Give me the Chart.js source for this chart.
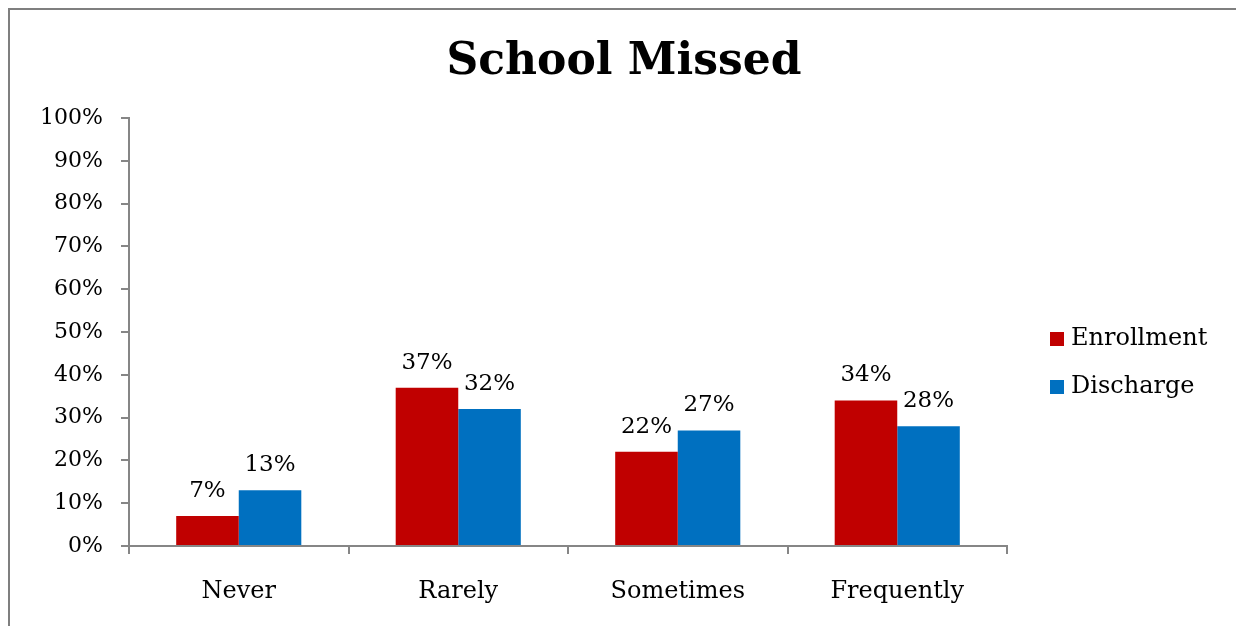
<!DOCTYPE html>
<html>
<head>
<meta charset="utf-8">
<script src="https://cdn.jsdelivr.net/npm/chart.js@4/dist/chart.umd.min.js"></script>
<style>
  html, body { margin: 0; padding: 0; background: #fff; overflow: hidden; }
  #wrap { position: absolute; left: 0; top: 0; width: 1236px; height: 626px; }
</style>
</head>
<body>
<div id="wrap"><canvas id="grafico"></canvas></div>
<script>
// Datos del gráfico
const categorias = ['Never', 'Rarely', 'Sometimes', 'Frequently'];
const enrollment = [7, 37, 22, 34];
const discharge = [13, 32, 27, 28];
const nombresSeries = ['Enrollment', 'Discharge'];
const coloresSeries = ['#C00000', '#0070C0'];
const titulo = 'School Missed';

const fuente = 'DejaVu Serif';
const gris = '#868686';

// Marco gris (borde superior e izquierdo visibles)
const marco = {
    id: 'marco',
    beforeDraw(chart) {
        const ctx = chart.ctx;
        ctx.save();
        ctx.fillStyle = '#7f7f7f';
        ctx.fillRect(8, 8, chart.width - 8, 2);
        ctx.fillRect(8, 8, 2, chart.height - 8);
        ctx.restore();
    }
};

// Título centrado en todo el lienzo
const tituloCentrado = {
    id: 'tituloCentrado',
    afterDraw(chart) {
        const ctx = chart.ctx;
        ctx.save();
        ctx.font = 'bold 44px "' + fuente + '"';
        ctx.fillStyle = '#000';
        ctx.textAlign = 'center';
        ctx.textBaseline = 'middle';
        ctx.fillText(titulo, chart.width / 2 + 6, 63);
        ctx.restore();
    }
};

// Etiquetas de valor encima de cada barra
const etiquetasValor = {
    id: 'etiquetasValor',
    afterDatasetsDraw(chart) {
        const ctx = chart.ctx;
        ctx.save();
        ctx.font = '23px "' + fuente + '"';
        ctx.fillStyle = '#000';
        ctx.textAlign = 'center';
        ctx.textBaseline = 'middle';
        chart.data.datasets.forEach((ds, i) => {
            chart.getDatasetMeta(i).data.forEach((bar, j) => {
                ctx.fillText(ds.data[j] + '%', bar.x, bar.y - 25);
            });
        });
        ctx.restore();
    }
};

// Leyenda a la derecha
const leyenda = {
    id: 'leyenda',
    afterDraw(chart) {
        const ctx = chart.ctx;
        const x = chart.chartArea.right + 43;
        ctx.save();
        ctx.font = '24px "' + fuente + '"';
        ctx.textBaseline = 'middle';
        chart.data.datasets.forEach((ds, i) => {
            const y = 339 + i * 48;
            ctx.fillStyle = ds.backgroundColor;
            ctx.fillRect(x, y - 7, 14, 14);
            ctx.fillStyle = '#000';
            ctx.fillText(ds.label, x + 21, y);
        });
        ctx.restore();
    }
};

new Chart(document.getElementById('grafico'), {
    type: 'bar',
    data: {
        labels: categorias,
        datasets: [
            { label: nombresSeries[0], data: enrollment, backgroundColor: coloresSeries[0] },
            { label: nombresSeries[1], data: discharge, backgroundColor: coloresSeries[1] }
        ]
    },
    options: {
        responsive: true,
        maintainAspectRatio: false,
        animation: false,
        layout: { padding: { left: 10, right: 229, top: 118, bottom: 0 } },
        datasets: {
            bar: { barPercentage: 1, categoryPercentage: 0.57 }
        },
        plugins: {
            legend: { display: false },
            tooltip: { enabled: false },
            title: { display: false }
        },
        scales: {
            x: {
                grid: { drawOnChartArea: false, tickLength: 8, color: gris, lineWidth: 2, offset: true },
                border: { color: gris, width: 2 },
                ticks: { color: '#000', font: { family: fuente, size: 24 }, padding: 23 },
                afterFit(scale) { scale.height = 80; }
            },
            y: {
                min: 0,
                max: 100,
                grid: { drawOnChartArea: false, tickLength: 8, color: gris, lineWidth: 2 },
                border: { color: gris, width: 2 },
                ticks: {
                    stepSize: 10,
                    color: '#000',
                    font: { family: fuente, size: 22 },
                    padding: 18,
                    callback: v => v + '%'
                },
                afterFit(scale) { scale.width = 119; }
            }
        }
    },
    plugins: [marco, tituloCentrado, etiquetasValor, leyenda]
});
</script>
</body>
</html>
